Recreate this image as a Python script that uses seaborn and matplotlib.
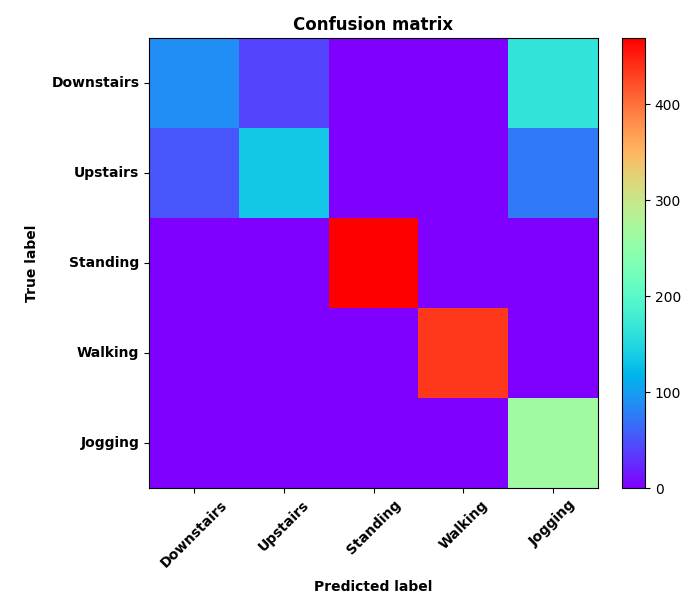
import matplotlib
matplotlib.use("Agg")
import matplotlib.pyplot as plt
import seaborn as sns
import numpy as np
import pandas as pd

labels = ["Downstairs", "Upstairs", "Standing", "Walking", "Jogging"]
row_downstairs = [89, 41, 0, 0, 164]
row_upstairs = [52, 134, 0, 0, 74]
row_standing = [0, 0, 469, 0, 0]
row_walking = [0, 0, 0, 436, 0]
row_jogging = [0, 0, 0, 0, 262]

cm = pd.DataFrame([row_downstairs, row_upstairs, row_standing, row_walking, row_jogging],
                  index=labels, columns=labels)

fig = plt.figure(figsize=(6.92, 6.01), dpi=100)
ax = fig.add_axes([149/692, 113/601, 449/692, 450/601])
cax = fig.add_axes([622/692, 113/601, 23/692, 450/601])

sns.heatmap(cm, ax=ax, cbar_ax=cax, cmap="rainbow", vmin=0, vmax=cm.values.max(),
            linewidths=0, square=False)

for s in ax.spines.values():
    s.set_visible(True)
    s.set_linewidth(0.8)
    s.set_color("black")
cb = ax.collections[0].colorbar
cb.outline.set_visible(True)
cb.outline.set_linewidth(0.8)
cb.outline.set_edgecolor("black")
cb.set_ticks([0, 100, 200, 300, 400])
cax.tick_params(labelsize=10, length=3.5, width=0.8)

ax.tick_params(axis="both", length=3.5, width=0.8)
ax.set_xticklabels(labels, rotation=45, ha="center", fontweight="bold", fontsize=10)
ax.set_yticklabels(labels, rotation=0, fontweight="bold", fontsize=10)
ax.set_xlabel("Predicted label", fontweight="bold", fontsize=10, labelpad=7)
ax.set_ylabel("True label", fontweight="bold", fontsize=10, labelpad=9)
ax.set_title("Confusion matrix", fontweight="bold", fontsize=12)

fig.savefig("out.png", dpi=100)
